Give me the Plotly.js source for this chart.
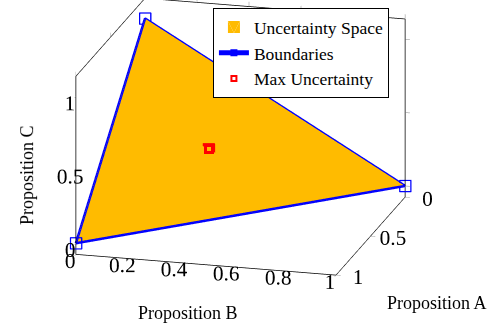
<!DOCTYPE html>
<html>
<head>
<meta charset="utf-8">
<script src="https://cdn.plot.ly/plotly-3.0.1.min.js"></script>
<style>html,body{margin:0;padding:0;background:#fff;}#chart{width:501px;height:327px;}#log{position:absolute;left:0;top:0;font-size:10px;color:#c00;}</style>
</head>
<body>
<div id="chart"></div>
<div id="log"></div>
<script>
window.onerror = function(m){ document.getElementById('log').textContent += ' ERR ' + m; };
// Simplex vertices (Proposition A, B, C)
const spaceA = [1, 0, 0];
const spaceB = [0, 1, 0];
const spaceC = [0, 0, 1];
// Boundary loop
const boundA = [1, 0, 0, 1];
const boundB = [0, 1, 0, 0];
const boundC = [0, 0, 1, 0];
// Max uncertainty point
const maxA = [1/3];
const maxB = [1/3];
const maxC = [1/3];
// Ticks
const ticksA = [0, 0.5, 1];
const ticksB = [0, 0.2, 0.4, 0.6, 0.8, 1];
const ticksC = [0, 0.5, 1];

const fam = 'Liberation Serif, DejaVu Serif, serif';
const tickFont = {family: fam, size: 16, color: '#000'};
const titleFont = {family: fam, size: 18, color: '#000'};
const legendFont = {family: fam, size: 17.5, color: '#000'};

const traces = [
  {type: 'mesh3d', name: 'Uncertainty Space', x: spaceA, y: spaceB, z: spaceC,
   i: [0], j: [1], k: [2], color: '#FFBB00', opacity: 1, flatshading: true,
   lighting: {ambient: 1, diffuse: 0, specular: 0, roughness: 1, fresnel: 0},
   showlegend: true, hoverinfo: 'skip'},
  {type: 'scatter3d', mode: 'lines+markers', name: 'Boundaries', x: boundA, y: boundB, z: boundC,
   line: {color: '#0000FF', width: 5},
   marker: {symbol: 'square-open', size: 5, color: '#0000FF', line: {color: '#0000FF', width: 2}},
   hoverinfo: 'skip'},
  {type: 'scatter3d', mode: 'markers', name: 'Max Uncertainty', x: maxA, y: maxB, z: maxC,
   marker: {symbol: 'square-open', size: 5, color: '#FF0000', line: {color: '#FF0000', width: 2}},
   hoverinfo: 'skip'}
];

function ax(range, ticks) {
  return {
    range: range, tickvals: ticks, ticktext: ticks.map(String),
    showbackground: false, showgrid: false, zeroline: false,
    showline: true, linecolor: '#000', linewidth: 1.5, mirror: 'all',
    ticks: 'inside', ticklen: 5, tickcolor: '#888', tickangle: 0,
    tickfont: tickFont, title: {text: ''}, showspikes: false
  };
}

const dir = {x: 0.922, y: 0.245, z: 0.300};
const ctr = {x: 0, y: 0, z: -0.172};
const dist = 2.5;

const layout = {
  width: 501, height: 327,
  margin: {l: 0, r: 0, t: 0, b: 0},
  paper_bgcolor: '#fff',
  font: tickFont,
  scene: {
    domain: {x: [0, 0.96], y: [0, 1]},
    xaxis: ax([0, 1], ticksA),
    yaxis: ax([0, 1], ticksB),
    zaxis: ax([-0.076, 1.138], ticksC),
    aspectmode: 'manual',
    aspectratio: {x: 1.646, y: 1.646, z: 1.142},
    camera: {
      projection: {type: 'orthographic'},
      up: {x: 0, y: 0, z: 1},
      center: ctr,
      eye: {x: ctr.x + dir.x * dist, y: ctr.y + dir.y * dist, z: ctr.z + dir.z * dist}
    },
    annotations: [
      {x: maxA[0], y: maxB[0], z: maxC[0], text: ' ', showarrow: false,
       width: 4, height: 4, borderpad: 0, bordercolor: '#FF0000', borderwidth: 3,
       font: {size: 4}}
    ],
    dragmode: false
  },
  legend: {x: 0.425, y: 0.975, xanchor: 'left', yanchor: 'top',
           bgcolor: '#fff', bordercolor: '#000', borderwidth: 1,
           font: legendFont, tracegroupgap: 0},
  annotations: [
    {text: 'Proposition C', xref: 'paper', yref: 'paper', x: 0.054, y: 0.465, xanchor: 'center', yanchor: 'middle', showarrow: false, textangle: -90, font: titleFont},
    {text: 'Proposition B', xref: 'paper', yref: 'paper', x: 0.375, y: 0.043, xanchor: 'center', yanchor: 'middle', showarrow: false, font: titleFont},
    {text: 'Proposition A', xref: 'paper', yref: 'paper', x: 0.872, y: 0.073, xanchor: 'center', yanchor: 'middle', showarrow: false, font: titleFont}
  ]
};

Plotly.newPlot('chart', traces, layout, {displayModeBar: false}).catch(function(e){document.getElementById('log').textContent += ' P ' + e;});
</script>
</body>
</html>
